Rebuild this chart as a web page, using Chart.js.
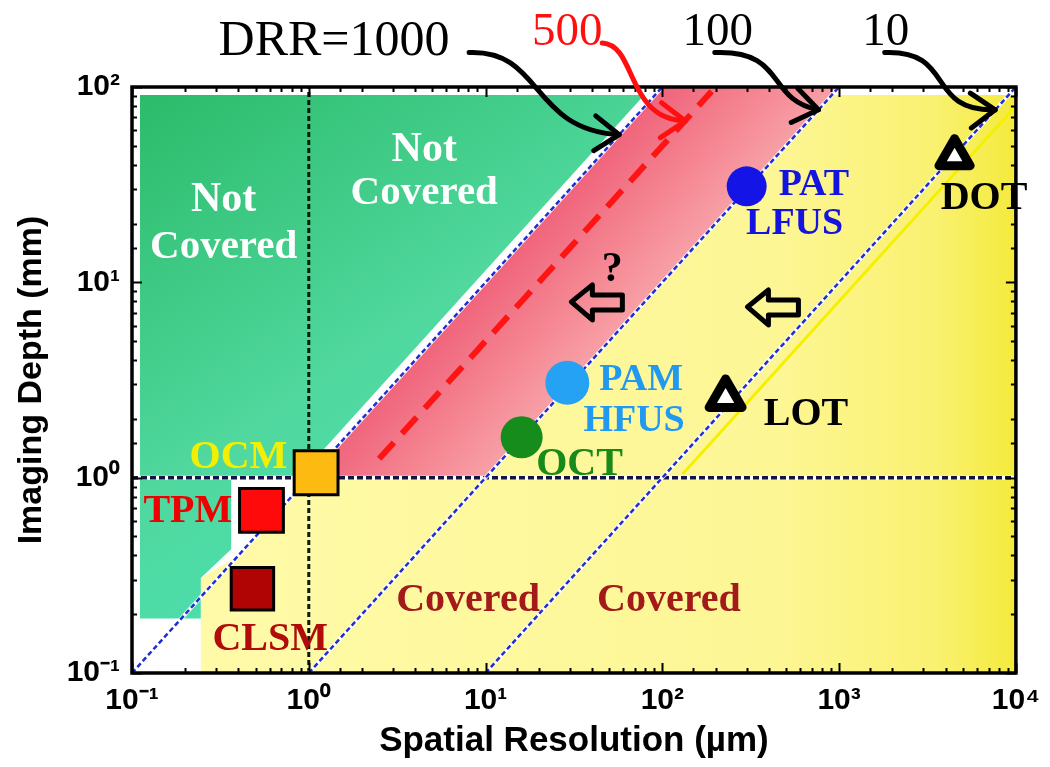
<!DOCTYPE html>
<html>
<head>
<meta charset="utf-8">
<script src="https://cdn.jsdelivr.net/npm/chart.js@4.4.1/dist/chart.umd.min.js"></script>
<style>
html,body{margin:0;padding:0;background:#fff;}
#wrap{width:1050px;height:767px;}
</style>
</head>
<body>
<div id="wrap"><canvas id="c" width="1050" height="767"></canvas></div>
<script>
// ---------------- DATA ----------------
const xTickExps = [-1, 0, 1, 2, 3, 4];
const xTickLabels = ['10⁻¹', '10⁰', '10¹', '10²', '10³', '10⁴'];
const yTickExps = [-1, 0, 1, 2];
const yTickLabels = ['10⁻¹', '10⁰', '10¹', '10²'];

// imaging techniques: spatial resolution (µm) and imaging depth (mm)
const techniques   = ['OCM', 'TPM', 'CLSM', 'PAT/LFUS', 'PAM/HFUS', 'OCT', 'LOT', 'DOT'];
const resolutionUm = [1.1, 0.54, 0.48, 300, 29, 16, 228, 4500];
const depthMm      = [1.06, 0.68, 0.27, 31, 3.06, 1.61, 2.56, 44];

// depth-to-resolution ratio reference lines (end points)
const drr1000X = [0.1, 100],  drr1000Y = [0.1, 100];
const drr500X  = [2.5, 190],  drr500Y  = [1.25, 95];
const drr100X  = [1, 1000],   drr100Y  = [0.1, 100];
const drr10X   = [10, 10000], drr10Y   = [0.1, 100];
const edgeLineX = [130, 10000], edgeLineY = [1.04, 80];
const vRefX = [1, 1], vRefY = [0.1, 100];
const hRefX = [0.1, 10000], hRefY = [1, 1];

// regions (polygon vertices)
const notCoveredX = [0.111, 0.111, 79, 0.87, 0.364, 0.364, 0.245, 0.245];
const notCoveredY = [0.19, 91, 91, 1, 1, 0.43, 0.306, 0.19];
const targetX = [1, 10, 1000, 100];
const targetY = [1, 1, 100, 100];
const coveredX = [0.245, 10000, 10000, 910, 10, 1, 0.4, 0.245];
const coveredY = [0.1, 0.1, 91, 91, 1, 1, 0.4, 0.306];

// ---------------- STYLE / ANNOTATIONS ----------------
const pts = (xs, ys) => xs.map((x, i) => ({x, y: ys[i]}));
const SERIF = '"Liberation Serif","Times New Roman",serif';
const SANS = '"Liberation Sans",Arial,sans-serif';

const markerStyle = [
  {shape: 'rect', r: 31, fill: '#fdbb12', bw: 3},
  {shape: 'rect', r: 31, fill: '#ff0a0a', bw: 3},
  {shape: 'rect', r: 30, fill: '#b00404', bw: 3},
  {shape: 'circle', r: 20, fill: '#1414e6', bw: 0},
  {shape: 'circle', r: 22, fill: '#25a2f4', bw: 0},
  {shape: 'circle', r: 21, fill: '#168c1c', bw: 0},
  {shape: 'triangle', r: 19, fill: '#ffffff', bw: 9},
  {shape: 'triangle', r: 18, fill: '#ffffff', bw: 9}
];

const textLabels = [
  {t: 'Not', x: 0.33, y: 27.4, c: '#ffffff', s: 42},
  {t: 'Covered', x: 0.33, y: 15.6, c: '#ffffff', s: 41},
  {t: 'Not', x: 4.5, y: 49.3, c: '#ffffff', s: 42},
  {t: 'Covered', x: 4.5, y: 29.5, c: '#ffffff', s: 41},
  {t: 'Covered', x: 7.96, y: 0.242, c: '#a31a1a', s: 40},
  {t: 'Covered', x: 109, y: 0.242, c: '#a31a1a', s: 40},
  {t: 'OCM', x: 0.40, y: 1.31, c: '#f2f000', s: 40},
  {t: 'TPM', x: 0.207, y: 0.69, c: '#ee0000', s: 40},
  {t: 'CLSM', x: 0.605, y: 0.153, c: '#b00c0c', s: 40},
  {t: 'PAT', x: 720, y: 32.3, c: '#1414e0', s: 38},
  {t: 'LFUS', x: 560, y: 20.4, c: '#1414e0', s: 38},
  {t: 'PAM', x: 75.9, y: 3.24, c: '#2299f0', s: 38},
  {t: 'HFUS', x: 69.2, y: 2.02, c: '#2299f0', s: 38},
  {t: 'OCT', x: 34, y: 1.20, c: '#178a1a', s: 40},
  {t: 'LOT', x: 650, y: 2.17, c: '#000000', s: 40},
  {t: 'DOT', x: 6600, y: 27.7, c: '#000000', s: 40},
  {t: '?', x: 52, y: 12.0, c: '#000000', s: 42}
];
const hollowArrows = [{x: 42.9, y: 7.94}, {x: 425, y: 7.48}];

const topTexts = [
  {t: 'DRR=1000', x: 1.39, y: 146, c: '#000000', s: 50},
  {t: '500', x: 29, y: 164, c: '#ff1010', s: 47},
  {t: '100', x: 206, y: 164, c: '#000000', s: 47},
  {t: '10', x: 1834, y: 164, c: '#000000', s: 47}
];
// curved arrows: start / tip in data coords, control offsets in px
const curvedArrows = [
  {from: [8.07, 150], to: [57, 57], c1: [74, -3], c2: [-89, -5], color: '#000'},
  {from: [45.7, 168], to: [135, 67], c1: [35, 2], c2: [-60, -2], color: '#ff1010'},
  {from: [198, 150], to: [764, 76.4], c1: [72, -3], c2: [-53, -10], color: '#000'},
  {from: [1811, 150], to: [7640, 76.4], c1: [71, -3], c2: [-70, 2], color: '#000'}
];

// ---------------- CHART ----------------
function gradFor(kind) {
  return (ctx) => {
    const chart = ctx.chart;
    const xs = chart.scales.x, ys = chart.scales.y;
    const fallback = kind === 'green' ? '#3cc97c' : kind === 'pink' ? '#f47c8c' : '#fcf48a';
    if (!chart.chartArea || !xs || !ys) return fallback;
    const c = chart.ctx;
    let g;
    if (kind === 'green') {
      g = c.createLinearGradient(xs.getPixelForValue(0.1), ys.getPixelForValue(100), xs.getPixelForValue(10), ys.getPixelForValue(0.2));
      g.addColorStop(0, '#2aba68');
      g.addColorStop(0.55, '#50d89e');
      g.addColorStop(1, '#48e4b8');
    } else if (kind === 'pink') {
      const x0 = xs.getPixelForValue(10), y0 = ys.getPixelForValue(10);
      const x1 = xs.getPixelForValue(100);
      const w = (x1 - x0) * 0.739;
      g = c.createLinearGradient(x0, y0, x0 + w * 0.739, y0 + w * 0.673);
      g.addColorStop(0, '#f0647c');
      g.addColorStop(0.5, '#f4828f');
      g.addColorStop(1, '#f8a0a6');
    } else {
      g = c.createLinearGradient(xs.getPixelForValue(0.3), 0, xs.getPixelForValue(10000), 0);
      g.addColorStop(0, '#fffaa8');
      g.addColorStop(0.7, '#fdf695');
      g.addColorStop(0.9, '#f9f170');
      g.addColorStop(1, '#f4ea3c');
    }
    return g;
  };
}

const regionDs = (label, xs, ys, kind, order) => ({
  type: 'line', label, data: pts(xs, ys), order,
  fill: 'shape', backgroundColor: gradFor(kind), borderWidth: 0, borderColor: 'rgba(0,0,0,0)',
  pointRadius: 0, tension: 0
});
const lineDs = (label, xs, ys, color, width, dash, order) => ({
  type: 'line', label, data: pts(xs, ys), order,
  fill: false, borderColor: color, borderWidth: width, borderDash: dash,
  pointRadius: 0, tension: 0, borderCapStyle: 'butt'
});

const datasets = [
  regionDs('Covered', coveredX, coveredY, 'yellow', 100),
  regionDs('Not Covered', notCoveredX, notCoveredY, 'green', 99),
  regionDs('Target', targetX, targetY, 'pink', 98),
  lineDs('edge', edgeLineX, edgeLineY, '#f5f000', 3, [], 90),
  lineDs('x=1', vRefX, vRefY, '#0a1a0a', 3, [5, 3], 89),
  lineDs('y=1 halo', hRefX, hRefY, '#ffffff', 4, [], 88.5),
  lineDs('y=1', hRefX, hRefY, '#141446', 3.5, [6, 3], 88),
  lineDs('DRR1000 halo', drr1000X, drr1000Y, 'rgba(255,255,255,0.9)', 4, [], 87.5),
  lineDs('DRR = 1000', drr1000X, drr1000Y, '#1f2ed0', 2.5, [5, 3], 87),
  lineDs('DRR100 halo', drr100X, drr100Y, 'rgba(255,255,255,0.9)', 4, [], 86.5),
  lineDs('DRR = 100', drr100X, drr100Y, '#1f2ed0', 2.5, [5, 3], 86),
  lineDs('DRR10 halo', drr10X, drr10Y, 'rgba(255,255,255,0.9)', 4, [], 85.5),
  lineDs('DRR = 10', drr10X, drr10Y, '#1f2ed0', 2.5, [5, 3], 85),
  lineDs('DRR = 500', drr500X, drr500Y, '#ff1414', 6, [22, 12], 80)
];
techniques.forEach((name, i) => {
  const st = markerStyle[i];
  datasets.push({
    type: 'scatter', label: name, order: 10 - i,
    data: [{x: resolutionUm[i], y: depthMm[i]}],
    pointStyle: st.shape, pointRadius: st.r, pointHoverRadius: st.r,
    backgroundColor: st.fill, borderColor: '#000000', borderWidth: st.bw, pointBorderWidth: st.bw,
    clip: false
  });
});

function isPow10(v) { const e = Math.log10(v); return Math.abs(e - Math.round(e)) < 1e-6; }

function drawTextLabels(chart) {
  const ctx = chart.ctx, xs = chart.scales.x, ys = chart.scales.y;
  ctx.save();
  ctx.textAlign = 'center';
  ctx.textBaseline = 'alphabetic';
  textLabels.forEach(l => {
    ctx.font = `bold ${l.s}px ${SERIF}`;
    ctx.fillStyle = l.c;
    ctx.fillText(l.t, xs.getPixelForValue(l.x), ys.getPixelForValue(l.y) + l.s * 0.33);
  });
  // hollow left arrows
  ctx.strokeStyle = '#000';
  ctx.lineWidth = 5;
  ctx.lineJoin = 'round';
  hollowArrows.forEach(a => {
    const cx = xs.getPixelForValue(a.x), cy = ys.getPixelForValue(a.y);
    const P = [[-26, 0], [-5, -17], [-5, -7], [25, -7], [25, 8], [-5, 8], [-5, 18]];
    ctx.beginPath();
    P.forEach((p, i) => i ? ctx.lineTo(cx + p[0], cy + p[1]) : ctx.moveTo(cx + p[0], cy + p[1]));
    ctx.closePath();
    ctx.stroke();
  });
  ctx.restore();
}

const deco = {
  id: 'deco',
  beforeDraw(chart) {
    const ctx = chart.ctx;
    ctx.save();
    ctx.fillStyle = '#ffffff';
    ctx.fillRect(0, 0, chart.width, chart.height);
    ctx.restore();
  },
  beforeDatasetDraw(chart, args) {
    const ds = chart.data.datasets[args.index];
    if (ds.pointStyle === 'triangle') chart.ctx.lineJoin = 'round';
  },
  afterDatasetDraw(chart, args) {
    chart.ctx.lineJoin = 'miter';
    const ds = chart.data.datasets[args.index];
    if (ds.label === 'DRR = 500') drawTextLabels(chart);
  },
  afterDatasetsDraw(chart) {
    const ctx = chart.ctx, xs = chart.scales.x, ys = chart.scales.y;
    const a = chart.chartArea;
    ctx.save();
    // inner tick marks
    ctx.strokeStyle = '#000';
    ctx.lineWidth = 2;
    ctx.beginPath();
    xs.ticks.forEach(t => {
      const px = Math.round(xs.getPixelForValue(t.value)) + 0.5;
      const len = isPow10(t.value) ? 10 : 5;
      ctx.moveTo(px, a.bottom); ctx.lineTo(px, a.bottom - len);
      ctx.moveTo(px, a.top); ctx.lineTo(px, a.top + len);
    });
    ys.ticks.forEach(t => {
      const py = Math.round(ys.getPixelForValue(t.value)) + 0.5;
      const len = isPow10(t.value) ? 10 : 5;
      ctx.moveTo(a.left, py); ctx.lineTo(a.left + len, py);
      ctx.moveTo(a.right, py); ctx.lineTo(a.right - len, py);
    });
    ctx.stroke();
    // frame
    ctx.lineWidth = 3.5;
    ctx.strokeRect(a.left, a.top, a.right - a.left, a.bottom - a.top);
    // top texts
    ctx.textAlign = 'center';
    ctx.textBaseline = 'alphabetic';
    topTexts.forEach(l => {
      ctx.font = `${l.s}px ${SERIF}`;
      ctx.fillStyle = l.c;
      ctx.fillText(l.t, xs.getPixelForValue(l.x), ys.getPixelForValue(l.y));
    });
    // curved arrows
    ctx.lineWidth = 5;
    ctx.lineCap = 'round';
    ctx.lineJoin = 'round';
    curvedArrows.forEach(ar => {
      const x0 = xs.getPixelForValue(ar.from[0]), y0 = ys.getPixelForValue(ar.from[1]);
      const x3 = xs.getPixelForValue(ar.to[0]), y3 = ys.getPixelForValue(ar.to[1]);
      const c1x = x0 + ar.c1[0], c1y = y0 + ar.c1[1];
      const c2x = x3 + ar.c2[0], c2y = y3 + ar.c2[1];
      ctx.strokeStyle = ar.color;
      ctx.beginPath();
      ctx.moveTo(x0, y0);
      ctx.bezierCurveTo(c1x, c1y, c2x, c2y, x3, y3);
      ctx.stroke();
      const ang = Math.atan2(y3 - c2y, x3 - c2x);
      const L = 30, sp = 0.62;
      ctx.beginPath();
      ctx.moveTo(x3 - L * Math.cos(ang - sp), y3 - L * Math.sin(ang - sp));
      ctx.lineTo(x3, y3);
      ctx.lineTo(x3 - L * Math.cos(ang + sp), y3 - L * Math.sin(ang + sp));
      ctx.stroke();
    });
    ctx.restore();
  }
};

const tickCb = (exps, labels) => (v) => {
  if (!isPow10(v)) return '';
  const i = exps.indexOf(Math.round(Math.log10(v)));
  return i >= 0 ? labels[i] : '';
};

new Chart(document.getElementById('c'), {
  type: 'scatter',
  data: {datasets},
  options: {
    responsive: false,
    animation: false,
    events: [],
    layout: {padding: {top: 87, right: 29, left: 0, bottom: 0}},
    plugins: {legend: {display: false}, tooltip: {enabled: false}},
    scales: {
      x: {
        type: 'logarithmic', min: 0.1, max: 10000,
        grid: {display: false, drawTicks: false}, border: {display: false},
        ticks: {autoSkip: false, maxRotation: 0, minRotation: 0, padding: 10, color: '#000',
          font: {family: SANS, size: 30, weight: 'bold'}, callback: tickCb(xTickExps, xTickLabels)},
        title: {display: true, text: 'Spatial Resolution (µm)', color: '#000',
          font: {family: SANS, size: 35, weight: 'bold', lineHeight: 1}, padding: {top: 0, bottom: 8}},
        afterFit: (s) => { s.height = 94; }
      },
      y: {
        type: 'logarithmic', min: 0.1, max: 100,
        grid: {display: false, drawTicks: false}, border: {display: false},
        ticks: {autoSkip: false, padding: 12, color: '#000',
          font: {family: SANS, size: 30, weight: 'bold'}, callback: tickCb(yTickExps, yTickLabels)},
        title: {display: true, text: 'Imaging Depth (mm)', color: '#000',
          font: {family: SANS, size: 34, weight: 'bold', lineHeight: 1}, padding: {top: 15, bottom: 0}},
        afterFit: (s) => { s.width = 132; }
      }
    }
  },
  plugins: [deco]
});
</script>
</body>
</html>
